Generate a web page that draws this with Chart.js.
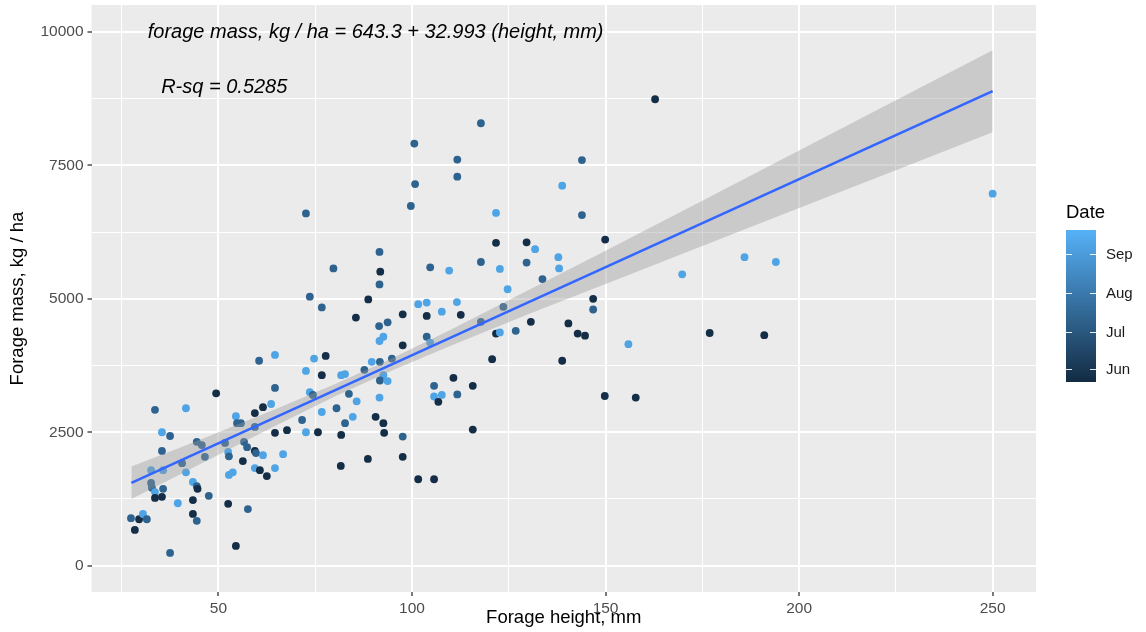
<!DOCTYPE html>
<html>
<head>
<meta charset="utf-8">
<title>Forage mass vs forage height</title>
<script src="https://cdn.jsdelivr.net/npm/chart.js@4"></script>
<style>
  html, body { margin: 0; padding: 0; background: #fff; }
  #wrap { width: 1146px; height: 632px; }
</style>
</head>
<body>
<div id="wrap"><canvas id="forageChart" width="1146" height="632"></canvas></div>
<script>
/* ── Data ──────────────────────────────────────────────────── */

// forage height, mm
const heights = [
  49.4, 64.6, 33.6, 41.6, 73.6, 74.4, 61.5, 63.6, 59.4, 54.5,
  54.8, 55.8, 59.4, 76.7, 71.6, 64.6, 67.7, 72.6, 75.7, 35.4,
  37.5, 44.4, 45.7, 35.4, 56.6, 57.4, 51.7, 59.4, 52.5, 52.7,
  59.7, 61.5, 66.7, 46.5, 56.3, 32.6, 35.7, 40.6, 41.6, 59.4,
  60.7, 64.6, 62.5, 52.7, 53.7, 32.6, 32.8, 33.6, 35.7, 43.4,
  44.4, 44.6, 33.6, 35.4, 47.5, 39.5, 43.4, 52.5, 57.6, 43.4,
  44.4, 27.4, 29.5, 30.5, 31.5, 28.4, 54.5, 37.5, 76.7, 88.7,
  85.5, 97.6, 101.6, 103.8, 103.8, 111.6, 107.7, 112.6, 91.5, 93.7,
  91.6, 92.6, 97.6, 103.8, 104.7, 60.5, 64.6, 74.7, 77.7, 72.6,
  76.7, 81.7, 82.7, 87.7, 89.6, 91.7, 94.8, 92.6, 91.7, 93.7,
  83.7, 85.7, 80.5, 82.7, 84.7, 90.6, 92.6, 92.8, 97.6, 105.7,
  110.7, 105.7, 107.7, 106.8, 111.7, 81.7, 81.6, 88.6, 97.6, 101.6,
  105.7, 91.6, 100.8, 111.7, 99.7, 138.8, 121.7, 121.7, 129.6, 131.8,
  91.6, 91.8, 91.6, 79.7, 104.7, 109.6, 117.8, 122.7, 129.6, 137.8,
  138.0, 133.7, 124.7, 123.6, 117.8, 121.7, 122.7, 126.8, 130.7, 140.4,
  120.7, 138.8, 115.7, 162.8, 117.8, 100.6, 111.7, 143.9, 143.9, 149.9,
  169.8, 185.9, 194.0, 250.0, 146.8, 146.8, 142.8, 144.7, 155.9, 176.9,
  191.0, 72.6, 73.6, 149.8, 157.8, 115.7
];

// forage mass, kg / ha
const masses = [
  3230, 3330, 2920, 2950, 3250, 3200, 2970, 3030, 2860, 2800,
  2670, 2670, 2600, 2880, 2730, 2490, 2540, 2500, 2500, 2500,
  2430, 2320, 2260, 2150, 2320, 2220, 2300, 2150, 2130, 2050,
  2110, 2070, 2090, 2040, 1960, 1790, 1790, 1920, 1750, 1830,
  1790, 1830, 1680, 1700, 1750, 1550, 1460, 1380, 1440, 1570,
  1490, 1440, 1270, 1290, 1310, 1170, 1230, 1160, 1060, 970,
  840, 890, 870, 970, 870, 670, 370, 240, 4840, 4990,
  4650, 4710, 4900, 4930, 4680, 4940, 4760, 4700, 4490, 4560,
  4210, 4290, 4130, 4290, 4180, 3840, 3950, 3880, 3930, 3650,
  3570, 3570, 3590, 3670, 3820, 3820, 3880, 3570, 3470, 3460,
  3220, 3080, 2950, 2670, 2790, 2790, 2670, 2490, 2420, 3370,
  3520, 3170, 3200, 3070, 3210, 2450, 1870, 2000, 2040, 1620,
  1620, 3150, 7150, 7290, 6740, 7120, 6610, 6050, 6060, 5930,
  5880, 5510, 5270, 5570, 5590, 5530, 5690, 5560, 5680, 5780,
  5570, 5370, 5180, 4850, 4570, 4350, 4370, 4400, 4570, 4540,
  3870, 3840, 3370, 8740, 8290, 7910, 7610, 7600, 6570, 6110,
  5460, 5780, 5690, 6970, 5000, 4800, 4350, 4310, 4150, 4360,
  4320, 6600, 5040, 3180, 3150, 2550
];

// sampling date of each point
const dates = [
  '05-25', '07-12', '07-12', '09-08', '09-08', '07-12', '05-25', '09-08', '05-25', '09-08',
  '07-12', '07-12', '07-12', '09-08', '07-12', '05-25', '05-25', '09-08', '05-25', '09-08',
  '07-12', '07-12', '07-12', '07-12', '07-12', '07-12', '07-12', '05-25', '09-08', '07-12',
  '07-12', '09-08', '09-08', '07-12', '05-25', '09-08', '09-08', '07-12', '09-08', '09-08',
  '05-25', '09-08', '05-25', '09-08', '09-08', '07-12', '07-12', '09-08', '07-12', '09-08',
  '07-12', '05-25', '05-25', '05-25', '07-12', '09-08', '05-25', '05-25', '07-12', '05-25',
  '07-12', '07-12', '05-25', '09-08', '07-12', '05-25', '05-25', '07-12', '07-12', '05-25',
  '05-25', '05-25', '09-08', '09-08', '05-25', '09-08', '09-08', '05-25', '07-12', '07-12',
  '09-08', '09-08', '05-25', '07-12', '09-08', '07-12', '09-08', '09-08', '05-25', '09-08',
  '05-25', '09-08', '09-08', '07-12', '09-08', '07-12', '07-12', '09-08', '07-12', '09-08',
  '07-12', '09-08', '07-12', '07-12', '09-08', '05-25', '05-25', '05-25', '07-12', '07-12',
  '05-25', '09-08', '09-08', '05-25', '07-12', '05-25', '05-25', '05-25', '05-25', '05-25',
  '05-25', '09-08', '07-12', '07-12', '07-12', '09-08', '09-08', '05-25', '05-25', '09-08',
  '07-12', '05-25', '07-12', '07-12', '07-12', '09-08', '07-12', '09-08', '07-12', '09-08',
  '09-08', '07-12', '09-08', '07-12', '07-12', '05-25', '09-08', '07-12', '05-25', '05-25',
  '05-25', '05-25', '05-25', '05-25', '07-12', '07-12', '07-12', '07-12', '07-12', '05-25',
  '09-08', '09-08', '09-08', '09-08', '05-25', '07-12', '05-25', '05-25', '09-08', '05-25',
  '05-25', '07-12', '07-12', '05-25', '05-25', '05-25'
];
const year = '2017';
const dateRange = ['05-22', '09-20'];

// colourbar labels
const dateTickDates  = ['06-01', '07-01', '08-01', '09-01'];
const dateTickLabels = ['Jun', 'Jul', 'Aug', 'Sep'];

// axis grid lines (minor + major) and labelled ticks
const xGridValues  = [25, 50, 75, 100, 125, 150, 175, 200, 225, 250];
const xLabelValues = [50, 100, 150, 200, 250];
const yGridValues  = [0, 1250, 2500, 3750, 5000, 6250, 7500, 8750, 10000];
const yLabelValues = [0, 2500, 5000, 7500, 10000];

// fitted line and its confidence band
const fitX    = [27.5, 250];
const fitY    = [1551, 8891];
const bandX   = [27.5, 40, 50, 65, 80, 95, 110, 130, 150, 175, 200, 225, 250];
const bandLow = [1250, 1710, 2080, 2630, 3170, 3660, 4120, 4710, 5280, 5990, 6700, 7410, 8120];
const bandHigh= [1860, 2210, 2500, 2940, 3400, 3890, 4420, 5160, 5900, 6840, 7780, 8720, 9660];

// annotations
const noteTexts = ['forage mass, kg / ha = 643.3 + 32.993 (height, mm)', 'R-sq = 0.5285'];
const noteX = [90.6, 51.5];
const noteY = [10000, 8970];

/* ── Helpers ───────────────────────────────────────────────── */
const FONT = '"Liberation Sans", Arial, Helvetica, sans-serif';
const lowRGB  = [19, 43, 67];     // #132B43
const highRGB = [86, 177, 247];   // #56B1F7
const dMin = Date.parse(year + '-' + dateRange[0]);
const dMax = Date.parse(year + '-' + dateRange[1]);

function dateFrac(d) {
  return (Date.parse(year + '-' + d) - dMin) / (dMax - dMin);
}
function dateColor(d) {
  const t = Math.max(0, Math.min(1, dateFrac(d)));
  const c = lowRGB.map((v, i) => Math.round(v + (highRGB[i] - v) * t));
  return `rgb(${c[0]},${c[1]},${c[2]})`;
}

const points    = heights.map((h, i) => ({ x: h, y: masses[i] }));
const pointCols = dates.map(dateColor);
const fitLine   = fitX.map((x, i) => ({ x: x, y: fitY[i] }));
const bandLo    = bandX.map((x, i) => ({ x: x, y: bandLow[i] }));
const bandHi    = bandX.map((x, i) => ({ x: x, y: bandHigh[i] }));

const isMajor = (ctx, labels) => !!ctx.tick && labels.includes(ctx.tick.value);

// ── Panel background, annotations and colourbar ──────────────
const ggPlugin = {
  id: 'ggExtras',
  beforeDraw(chart) {
    const { ctx, chartArea: a } = chart;
    ctx.save();
    ctx.fillStyle = '#EBEBEB';
    ctx.fillRect(a.left, a.top, a.right - a.left, a.bottom - a.top);
    ctx.restore();
  },
  afterDraw(chart) {
    const { ctx, scales } = chart;
    ctx.save();
    // text annotations
    ctx.fillStyle = '#000';
    ctx.font = `italic 20px ${FONT}`;
    ctx.textAlign = 'center';
    ctx.textBaseline = 'middle';
    noteTexts.forEach((t, i) => {
      ctx.fillText(t, scales.x.getPixelForValue(noteX[i]), scales.y.getPixelForValue(noteY[i]));
    });

    // colourbar legend
    const bx = 1066, by = 230, bw = 30, bh = 152;
    ctx.textAlign = 'left';
    ctx.font = `18.5px ${FONT}`;
    ctx.fillStyle = '#000';
    ctx.fillText('Date', bx, 213);

    const grad = ctx.createLinearGradient(0, by + bh, 0, by);
    grad.addColorStop(0, 'rgb(' + lowRGB.join(',') + ')');
    grad.addColorStop(1, 'rgb(' + highRGB.join(',') + ')');
    ctx.fillStyle = grad;
    ctx.fillRect(bx, by, bw, bh);

    ctx.strokeStyle = 'rgba(255,255,255,0.9)';
    ctx.lineWidth = 1;
    ctx.font = `15px ${FONT}`;
    ctx.fillStyle = '#1A1A1A';
    dateTickDates.forEach((d, i) => {
      const y = Math.round(by + bh - dateFrac(d) * bh) + 0.5;
      ctx.beginPath();
      ctx.moveTo(bx, y); ctx.lineTo(bx + 6, y);
      ctx.moveTo(bx + bw - 6, y); ctx.lineTo(bx + bw, y);
      ctx.stroke();
      ctx.fillText(dateTickLabels[i], bx + 40, y);
    });
    ctx.restore();
  }
};

// ── Chart ────────────────────────────────────────────────────
new Chart(document.getElementById('forageChart'), {
  type: 'scatter',
  data: {
    datasets: [
      {
        type: 'line',
        label: 'fit',
        data: fitLine,
        borderColor: '#3366FF',
        borderWidth: 2.6,
        pointRadius: 0,
        fill: false,
        order: 0
      },
      {
        type: 'line',
        label: 'band high',
        data: bandHi,
        borderColor: 'transparent',
        borderWidth: 0,
        pointRadius: 0,
        backgroundColor: 'rgba(153,153,153,0.4)',
        fill: '+1',
        order: 1
      },
      {
        type: 'line',
        label: 'band low',
        data: bandLo,
        borderColor: 'transparent',
        borderWidth: 0,
        pointRadius: 0,
        fill: false,
        order: 1
      },
      {
        label: 'points',
        data: points,
        backgroundColor: pointCols,
        borderWidth: 0,
        pointRadius: 3.9,
        pointHoverRadius: 3.9,
        order: 2
      }
    ]
  },
  options: {
    responsive: false,
    devicePixelRatio: 1,
    animation: false,
    events: [],
    layout: { padding: { top: 5, right: 110, left: 0, bottom: 0 } },
    plugins: {
      legend: { display: false },
      tooltip: { enabled: false }
    },
    scales: {
      x: {
        type: 'linear',
        min: 17.2,
        max: 261.2,
        border: { display: false },
        grid: {
          color: '#FFFFFF',
          lineWidth: ctx => isMajor(ctx, xLabelValues) ? 2 : 1,
          tickColor: ctx => isMajor(ctx, xLabelValues) ? '#333333' : 'rgba(0,0,0,0)',
          tickWidth: 1.3,
          tickLength: 4
        },
        ticks: {
          autoSkip: false,
          maxRotation: 0,
          padding: 3,
          color: '#4D4D4D',
          font: { family: FONT, size: 15.5 },
          callback: v => (xLabelValues.includes(v) ? String(v) : '')
        },
        title: {
          display: true,
          text: 'Forage height, mm',
          color: '#000',
          font: { family: FONT, size: 18.5 },
          padding: { top: 0, bottom: 3 }
        },
        afterBuildTicks: s => { s.ticks = xGridValues.map(v => ({ value: v })); },
        afterFit: s => { s.height = 40; s.paddingLeft = 0; s.paddingRight = 0; }
      },
      y: {
        type: 'linear',
        min: -493,
        max: 10506,
        border: { display: false },
        grid: {
          color: '#FFFFFF',
          lineWidth: ctx => isMajor(ctx, yLabelValues) ? 2 : 1,
          tickColor: ctx => isMajor(ctx, yLabelValues) ? '#333333' : 'rgba(0,0,0,0)',
          tickWidth: 1.3,
          tickLength: 4
        },
        ticks: {
          autoSkip: false,
          padding: 4,
          color: '#4D4D4D',
          font: { family: FONT, size: 15.5 },
          callback: v => (yLabelValues.includes(v) ? String(v) : '')
        },
        title: {
          display: true,
          text: 'Forage mass, kg / ha',
          color: '#000',
          font: { family: FONT, size: 18.5 },
          padding: { top: 7, bottom: 0 }
        },
        afterBuildTicks: s => { s.ticks = yGridValues.map(v => ({ value: v })); },
        afterFit: s => { s.width = 91.5; s.paddingTop = 0; s.paddingBottom = 0; }
      }
    }
  },
  plugins: [ggPlugin]
});
</script>
</body>
</html>
